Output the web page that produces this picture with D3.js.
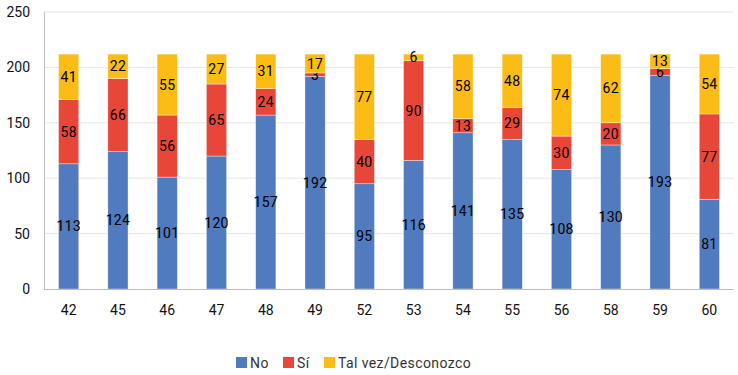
<!DOCTYPE html>
<html>
<head>
<meta charset="utf-8">
<script src="https://cdn.jsdelivr.net/npm/d3@7"></script>
<style>
  body { margin: 0; background: #fff; }
  text { font-family: Roboto, "DejaVu Sans", sans-serif; }
</style>
</head>
<body>
<div id="chart"></div>
<script>
const categories = ["42", "45", "46", "47", "48", "49", "52", "53", "54", "55", "56", "58", "59", "60"];
const noValues = [113, 124, 101, 120, 157, 192, 95, 116, 141, 135, 108, 130, 193, 81];
const siValues = [58, 66, 56, 65, 24, 3, 40, 90, 13, 29, 30, 20, 6, 77];
const talVezValues = [41, 22, 55, 27, 31, 17, 77, 6, 58, 48, 74, 62, 13, 54];
const seriesNames = ["No", "Sí", "Tal vez/Desconozco"];
const seriesColors = ["#507bbf", "#e9463a", "#fbbc16"];
const yTicks = [0, 50, 100, 150, 200, 250];

const width = 738, height = 375;
const margin = { top: 12, right: 4, bottom: 86, left: 44 };

const svg = d3.select("#chart").append("svg")
  .attr("width", width)
  .attr("height", height);

const rows = categories.map((c, i) => ({
  cat: c,
  "No": noValues[i],
  "Sí": siValues[i],
  "Tal vez/Desconozco": talVezValues[i]
}));

const x = d3.scaleBand()
  .domain(categories)
  .range([margin.left, width - margin.right])
  .paddingInner(0.59)
  .paddingOuter(0.295);

const y = d3.scaleLinear()
  .domain([0, 250])
  .range([height - margin.bottom, margin.top]);

const color = d3.scaleOrdinal().domain(seriesNames).range(seriesColors);

// gridlines
svg.append("g")
  .selectAll("line")
  .data(yTicks.filter(d => d > 0))
  .join("line")
  .attr("x1", margin.left)
  .attr("x2", width - margin.right)
  .attr("y1", d => y(d))
  .attr("y2", d => y(d))
  .attr("stroke", "#e6e6e6")
  .attr("stroke-width", 1);

// y labels
svg.append("g")
  .selectAll("text")
  .data(yTicks)
  .join("text")
  .attr("x", 30)
  .attr("y", d => y(d))
  .attr("dy", "0.35em")
  .attr("text-anchor", "end")
  .attr("font-size", 14)
  .attr("fill", "#111")
  .text(d => d);

const stack = d3.stack().keys(seriesNames);
const layers = stack(rows);

const layer = svg.append("g")
  .selectAll("g")
  .data(layers)
  .join("g")
  .attr("fill", d => color(d.key));

layer.selectAll("rect")
  .data(d => d)
  .join("rect")
  .attr("x", d => x(d.data.cat))
  .attr("width", x.bandwidth())
  .attr("y", d => y(d[1]))
  .attr("height", d => y(d[0]) - y(d[1]))
  .attr("stroke", "#fff")
  .attr("stroke-opacity", 0.6)
  .attr("stroke-width", 0.6);

// value labels
layer.selectAll("text")
  .data(d => d.map(v => ({ v, key: d.key })))
  .join("text")
  .attr("x", d => x(d.v.data.cat) + x.bandwidth() / 2)
  .attr("y", d => y((d.v[0] + d.v[1]) / 2))
  .attr("dy", "0.36em")
  .attr("text-anchor", "middle")
  .attr("font-size", 14)
  .attr("letter-spacing", 0.3)
  .attr("fill", "#000")
  .text(d => d.v.data[d.key]);

// axes lines
svg.append("line")
  .attr("x1", margin.left + 0.5).attr("x2", margin.left + 0.5)
  .attr("y1", y(250)).attr("y2", y(0))
  .attr("stroke", "#bfbfbf");
svg.append("line")
  .attr("x1", margin.left).attr("x2", width - margin.right)
  .attr("y1", y(0) + 0.5).attr("y2", y(0) + 0.5)
  .attr("stroke", "#bfbfbf");

// x labels
svg.append("g")
  .selectAll("text")
  .data(categories)
  .join("text")
  .attr("x", d => x(d) + x.bandwidth() / 2)
  .attr("y", y(0) + 21)
  .attr("dy", "0.35em")
  .attr("text-anchor", "middle")
  .attr("font-size", 14)
  .attr("fill", "#111")
  .text(d => d);

// legend
const legendX = [236, 283, 324];
const legend = svg.append("g")
  .selectAll("g")
  .data(seriesNames)
  .join("g")
  .attr("transform", (d, i) => `translate(${legendX[i]},357)`);
legend.append("rect")
  .attr("width", 11).attr("height", 11)
  .attr("fill", d => color(d));
legend.append("text")
  .attr("x", 14)
  .attr("y", 6)
  .attr("dy", "0.36em")
  .attr("font-size", 14)
  .attr("letter-spacing", 0.4)
  .attr("fill", "#333")
  .text(d => d);
</script>
</body>
</html>
